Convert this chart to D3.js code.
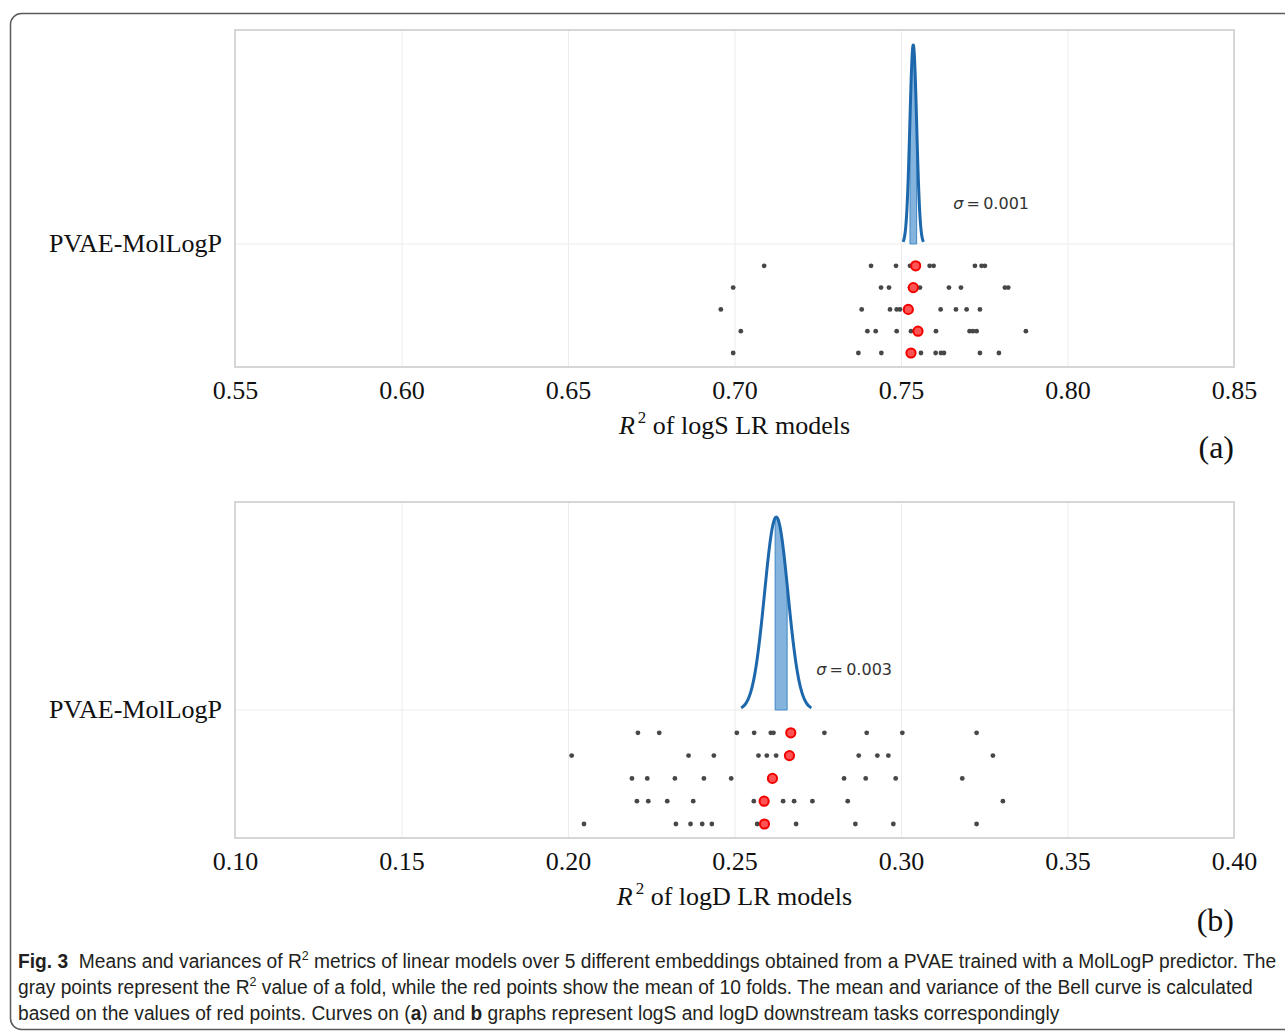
<!DOCTYPE html>
<html>
<head>
<meta charset="utf-8">
<script src="https://cdn.jsdelivr.net/npm/d3@7"></script>
<style>
  html, body { margin: 0; padding: 0; background: #fff; }
  svg { display: block; }
</style>
</head>
<body>
<script>
// Figura 3: R2 de modelos LR (logS arriba, logD abajo)
const W = 1285, H = 1033;

const rowLabel = "PVAE-MolLogP";

// panel (a) logS: puntos grises (10 folds por embedding) y medias en rojo
const logsTicks = [0.55, 0.60, 0.65, 0.70, 0.75, 0.80, 0.85];
const logsFolds = [
  [0.7089, 0.7410, 0.7485, 0.7527, 0.7545, 0.7586, 0.7598, 0.7722, 0.7742, 0.7752],
  [0.6996, 0.7440, 0.7464, 0.7527, 0.7545, 0.7557, 0.7644, 0.7680, 0.7812, 0.7822],
  [0.6959, 0.7382, 0.7467, 0.7487, 0.7497, 0.7518, 0.7619, 0.7665, 0.7697, 0.7737],
  [0.7019, 0.7399, 0.7424, 0.7487, 0.7530, 0.7605, 0.7706, 0.7716, 0.7727, 0.7875],
  [0.6996, 0.7372, 0.7441, 0.7524, 0.7560, 0.7604, 0.7620, 0.7629, 0.7737, 0.7794]
];
const logsMeans = [0.7544, 0.7537, 0.7522, 0.7551, 0.7530];
const logsShade = [0.7527, 0.7547];
const logsSigmaText = "0.001";

// panel (b) logD
const logdTicks = [0.10, 0.15, 0.20, 0.25, 0.30, 0.35, 0.40];
const logdFolds = [
  [0.2210, 0.2274, 0.2507, 0.2559, 0.2609, 0.2617, 0.2770, 0.2897, 0.3004, 0.3227],
  [0.2011, 0.2362, 0.2438, 0.2572, 0.2597, 0.2625, 0.2873, 0.2929, 0.2962, 0.3276],
  [0.2192, 0.2238, 0.2321, 0.2408, 0.2490, 0.2613, 0.2829, 0.2894, 0.2984, 0.3184],
  [0.2207, 0.2241, 0.2298, 0.2376, 0.2558, 0.2646, 0.2679, 0.2734, 0.2840, 0.3306],
  [0.2048, 0.2324, 0.2368, 0.2403, 0.2432, 0.2568, 0.2685, 0.2863, 0.2977, 0.3227]
];
const logdMeans = [0.2669, 0.2665, 0.2614, 0.2589, 0.2590];
const logdShade = [0.2622, 0.2658];
const logdSigmaText = "0.003";

// disposición de cada panel (pixeles)
const panels = [
  { ticks: logsTicks, folds: logsFolds, means: logsMeans, shade: logsShade, sigmaText: logsSigmaText,
    task: "logS", tag: "(a)", top: 30, bottom: 367, labelY: 244, lastRowY: 353, bellTop: 45,
    tickBase: 399, titleBase: 434, tagBase: 458 },
  { ticks: logdTicks, folds: logdFolds, means: logdMeans, shade: logdShade, sigmaText: logdSigmaText,
    task: "logD", tag: "(b)", top: 502, bottom: 838, labelY: 710, lastRowY: 824, bellTop: 517,
    tickBase: 870, titleBase: 905, tagBase: 931 }
];

const left = 235, right = 1234;
const serif = "'Liberation Serif', 'Times New Roman', serif";

const svg = d3.select("body").append("svg")
  .attr("width", W)
  .attr("height", H);

// marco redondeado
svg.append("rect")
  .attr("x", 10.5).attr("y", 13.5)
  .attr("width", 1300).attr("height", 1016)
  .attr("rx", 11)
  .attr("fill", "none")
  .attr("stroke", "#5a5a5a")
  .attr("stroke-width", 1.5);

panels.forEach(p => {
  const x = d3.scaleLinear()
    .domain([p.ticks[0], p.ticks[p.ticks.length - 1]])
    .range([left, right]);
  const y = d3.scaleLinear()
    .domain([0, 5])
    .range([p.labelY, p.lastRowY]);

  const g = svg.append("g");

  // rejilla
  const axis = d3.axisBottom(x)
    .tickValues(p.ticks)
    .tickSize(-(p.bottom - p.top))
    .tickPadding(p.tickBase - p.bottom - 18.5)
    .tickFormat(d3.format(".2f"));
  const ax = g.append("g")
    .attr("transform", `translate(0,${p.bottom})`)
    .call(axis);
  ax.select(".domain").remove();
  ax.selectAll(".tick line").attr("stroke", "#ececec").attr("stroke-width", 1);
  ax.selectAll(".tick text")
    .attr("fill", "#111")
    .style("font-family", serif)
    .style("font-size", "26px");

  g.append("line")
    .attr("x1", left).attr("x2", right)
    .attr("y1", y(0)).attr("y2", y(0))
    .attr("stroke", "#ececec");

  // caja del panel
  g.append("rect")
    .attr("x", left).attr("y", p.top)
    .attr("width", right - left).attr("height", p.bottom - p.top)
    .attr("fill", "none")
    .attr("stroke", "#d6d6d6")
    .attr("stroke-width", 2);

  // curva de Gauss con media y varianza de los puntos rojos
  const mu = d3.mean(p.means);
  const sd = d3.deviation(p.means) * Math.sqrt((p.means.length - 1) / p.means.length);
  const pdf = v => Math.exp(-0.5 * ((v - mu) / sd) ** 2) / (sd * Math.sqrt(2 * Math.PI));
  const yd = d3.scaleLinear().domain([0, pdf(mu)]).range([y(0), p.bellTop]);
  const xs = d3.range(-3, 3.0001, 0.05).map(k => mu + k * sd);

  const inShade = d3.range(0, 1.0001, 0.05).map(t => p.shade[0] + t * (p.shade[1] - p.shade[0]));
  g.append("path")
    .datum(inShade)
    .attr("d", d3.area().x(d => x(d)).y0(y(0)).y1(d => yd(pdf(d))))
    .attr("fill", "#5b9bd1")
    .attr("fill-opacity", 0.75)
    .attr("stroke", "#3f86c4")
    .attr("stroke-width", 1);

  g.append("path")
    .datum(xs)
    .attr("d", d3.line().x(d => x(d)).y(d => yd(pdf(d))).curve(d3.curveBasis))
    .attr("fill", "none")
    .attr("stroke", "#1d68ad")
    .attr("stroke-width", 3);

  // etiqueta sigma
  const st = g.append("text")
    .attr("x", x(mu) + 40)
    .attr("y", y(0) - 35)
    .attr("fill", "#333")
    .style("font-family", "'DejaVu Sans', sans-serif")
    .style("font-size", "16px");
  st.append("tspan").style("font-style", "italic").text("σ");
  st.append("tspan").text("\u2009=\u20090.001".replace("0.001", p.sigmaText));

  // puntos grises
  p.folds.forEach((row, i) => {
    g.selectAll(null)
      .data(row)
      .enter()
      .append("circle")
      .attr("cx", d => x(d))
      .attr("cy", y(i + 1))
      .attr("r", 2.4)
      .attr("fill", "#474747");
  });

  // medias
  g.selectAll(null)
    .data(p.means)
    .enter()
    .append("circle")
    .attr("cx", d => x(d))
    .attr("cy", (d, i) => y(i + 1))
    .attr("r", 4.6)
    .attr("fill", "#ff5252")
    .attr("stroke", "#f20000")
    .attr("stroke-width", 2);

  // etiqueta de la fila
  g.append("text")
    .attr("x", 222)
    .attr("y", y(0) + 8)
    .attr("text-anchor", "end")
    .attr("fill", "#111")
    .style("font-family", serif)
    .style("font-size", "26px")
    .text(rowLabel);

  // título del eje x
  const t = g.append("text")
    .attr("x", (left + right) / 2)
    .attr("y", p.titleBase)
    .attr("text-anchor", "middle")
    .attr("fill", "#111")
    .style("font-family", serif)
    .style("font-size", "26px");
  t.append("tspan").style("font-style", "italic").text("R");
  t.append("tspan").attr("dx", 3).attr("dy", -11).style("font-size", "17px").text("2");
  t.append("tspan").attr("dy", 11).text(" of " + p.task + " LR models");

  g.append("text")
    .attr("x", right)
    .attr("y", p.tagBase)
    .attr("text-anchor", "end")
    .attr("fill", "#111")
    .style("font-family", serif)
    .style("font-size", "32px")
    .text(p.tag);
});

// pie de figura
const capFont = "'Liberation Sans Narrow', 'Arial Narrow', 'Liberation Sans', sans-serif";
const capLines = [
  [["b", "Fig. 3"], ["n", "  Means and variances of R"], ["s", "2"], ["n", " metrics of linear models over 5 different embeddings obtained from a PVAE trained with a MolLogP predictor. The"]],
  [["n", "gray points represent the R"], ["s", "2"], ["n", " value of a fold, while the red points show the mean of 10 folds. The mean and variance of the Bell curve is calculated"]],
  [["n", "based on the values of red points. Curves on ("], ["b", "a"], ["n", ") and "], ["b", "b"], ["n", " graphs represent logS and logD downstream tasks correspondingly"]]
];
const capBase = [968, 994, 1020];

const capNodes = capLines.map((parts, i) => {
  const txt = svg.append("text")
    .attr("x", 18)
    .attr("y", capBase[i])
    .attr("fill", "#231f20")
    .style("white-space", "pre")
    .style("font-family", capFont)
    .style("font-size", "20px");
  parts.forEach(([k, s], j) => {
    const ts = txt.append("tspan").text(s);
    if (k === "b") ts.style("font-weight", "bold");
    if (k === "s") ts.attr("dy", -8).style("font-size", "13px");
    else if (j > 0 && parts[j - 1][0] === "s") ts.attr("dy", 8);
  });
  return txt;
});

const w0 = capNodes[0].node().getComputedTextLength();
const sx = (1277 - 18) / w0;
capNodes.forEach(n => n.attr("transform", `translate(18,0) scale(${sx},1) translate(-18,0)`));
</script>
</body>
</html>
